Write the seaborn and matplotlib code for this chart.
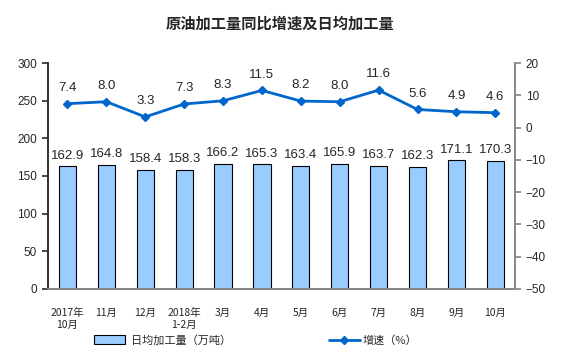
import numpy as np
import pandas as pd
import matplotlib.pyplot as plt
import seaborn as sns
from matplotlib.patches import Patch
from matplotlib.lines import Line2D

sns.set_theme(style='white')
plt.rcParams['font.family'] = ['Noto Sans CJK SC', 'DejaVu Sans']

# datos
months = ['2017年\n10月', '11月', '12月', '2018年\n1-2月', '3月', '4月',
          '5月', '6月', '7月', '8月', '9月', '10月']
daily_output = [162.9, 164.8, 158.4, 158.3, 166.2, 165.3,
                163.4, 165.9, 163.7, 162.3, 171.1, 170.3]
growth = [7.4, 8.0, 3.3, 7.3, 8.3, 11.5, 8.2, 8.0, 11.6, 5.6, 4.9, 4.6]

df = pd.DataFrame({'month': months, 'output': daily_output, 'growth': growth})

fig = plt.figure(figsize=(5.61, 3.58), dpi=100)
ax = fig.add_axes([0.0856, 0.193, 0.832, 0.631])

sns.barplot(data=df, x='month', y='output', ax=ax, color='#99CCFF',
            edgecolor='black', linewidth=0.8, width=0.44, saturation=1)
ax.set_ylim(0, 300)
ax.set_yticks(range(0, 301, 50))
ax.set_xlabel('')
ax.set_ylabel('')
ax.set_xlim(-0.5, len(months) - 0.5)

for i, v in enumerate(daily_output):
    ax.text(i, v + 6, f'{v:.1f}', ha='center', va='bottom', fontsize=9.5,
            family='Liberation Sans')

ax2 = ax.twinx()
x = np.arange(len(months))
ax2.plot(x, growth, color='#0066CC', lw=2, marker='D', markersize=4.5)
ax2.set_ylim(-50, 20)
ax2.set_yticks(range(-50, 21, 10))
for i, v in enumerate(growth):
    ax2.text(i, v + 3, f'{v:.1f}', ha='center', va='bottom', fontsize=9.5,
             family='Liberation Sans')

for a in (ax, ax2):
    a.spines['top'].set_visible(False)
    a.spines['left'].set_color('#333333')
    a.spines['right'].set_color('#888888')
    a.spines['bottom'].set_color('#888888')
    a.grid(False)

ax.tick_params(axis='y', left=True, length=4, labelsize=8.5, color='#333333', pad=4)
ax.tick_params(axis='x', bottom=False, labelsize=7.5, pad=8)
ax2.tick_params(axis='y', right=True, length=4, labelsize=8.5, color='#888888', pad=4)
for lab in ax.get_yticklabels() + ax2.get_yticklabels():
    lab.set_family('Liberation Sans')

fig.text(0.5, 0.935, '原油加工量同比增速及日均加工量', ha='center', va='center',
         fontsize=11, fontweight='bold')

h1 = Patch(facecolor='#99CCFF', edgecolor='black', linewidth=0.8)
h2 = Line2D([], [], color='#0066CC', lw=2, marker='D', markersize=4.5)
fig.legend([h1], ['日均加工量（万吨）'], loc='center', bbox_to_anchor=(0.29, 0.05),
           frameon=False, fontsize=8, handlelength=2.8, handleheight=0.9,
           handletextpad=0.5)
fig.legend([h2], ['增速（%）'], loc='center', bbox_to_anchor=(0.665, 0.05),
           frameon=False, fontsize=8, handlelength=2.8, handletextpad=0.3)

fig.savefig('out.png', dpi=100)
